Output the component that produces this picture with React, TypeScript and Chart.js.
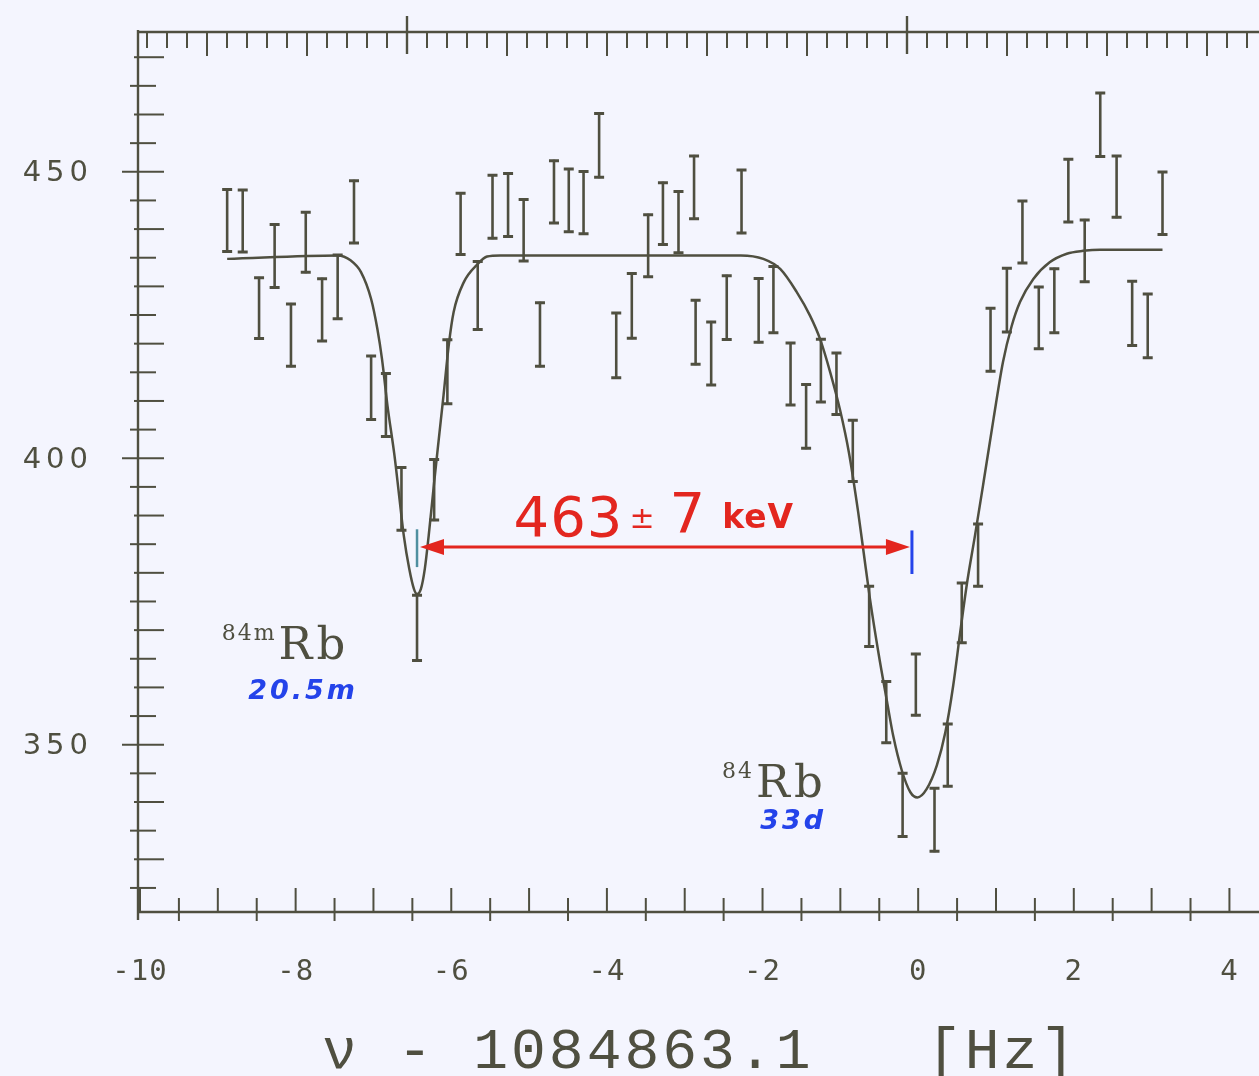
import { useEffect, useRef } from "react";
import { Chart, registerables } from "chart.js";

Chart.register(...registerables);

// Frequency offset from 1084863.1 Hz, counts per bin and their errors
const freqOffset = [
  -8.88, -8.68, -8.47, -8.27, -8.06, -7.87, -7.66, -7.46, -7.25, -7.03,
  -6.84, -6.64, -6.44, -6.22, -6.05, -5.88, -5.66, -5.47, -5.27, -5.07,
  -4.86, -4.68, -4.49, -4.3, -4.1, -3.88, -3.68, -3.47, -3.28, -3.08,
  -2.88, -2.86, -2.66, -2.46, -2.27, -2.05, -1.86, -1.64, -1.44, -1.25,
  -1.05, -0.84, -0.63, -0.41, -0.2, -0.03, 0.21, 0.38, 0.56, 0.77,
  0.93, 1.14, 1.34, 1.55, 1.75, 1.93, 2.14, 2.34, 2.55, 2.75,
  2.95, 3.14,
];
const counts = [
  441.5, 441.4, 426.2, 435.3, 421.5, 437.7, 425.9, 429.9, 443.0, 412.3,
  409.3, 392.9, 370.4, 394.5, 415.1, 440.9, 428.4, 443.9, 444.2, 439.8,
  421.6, 446.5, 445.0, 444.6, 454.6, 419.7, 426.6, 437.1, 442.7, 441.2,
  447.3, 422.0, 418.3, 426.3, 444.8, 425.8, 427.7, 414.7, 407.3, 415.3,
  413.0, 401.3, 372.4, 355.7, 339.5, 360.5, 336.9, 348.2, 373.0, 383.1,
  420.7, 427.6, 439.5, 424.5, 427.5, 446.7, 436.2, 458.2, 447.4, 425.3,
  423.1, 444.5,
];
const countErrors = [
  5.58, 5.58, 5.46, 5.67, 5.61, 5.41, 5.61, 5.73, 5.61, 5.73,
  5.67, 5.64, 5.87, 5.47, 5.76, 5.53, 6.1, 5.67, 5.67, 5.53,
  5.72, 5.61, 5.65, 5.61, 5.73, 5.82, 5.82, 5.58, 5.58, 5.52,
  5.65, 5.76, 5.67, 5.73, 5.67, 5.73, 5.96, 5.58, 5.73, 5.65,
  5.53, 5.52, 5.44, 5.52, 5.7, 5.52, 5.67, 5.61, 5.38, 5.61,
  5.67, 5.73, 5.58, 5.58, 5.76, 5.65, 5.58, 5.71, 5.52, 5.79,
  5.73, 5.62,
];

// Fitted resonance profile
const fitX = [
  -8.88, -7.46, -7.29, -7.16, -7.03, -6.95, -6.89, -6.82, -6.73, -6.67,
  -6.61, -6.54, -6.48, -6.44, -6.39, -6.34, -6.29, -6.22, -6.16, -6.1,
  -6.03, -5.97, -5.84, -5.66, -5.54, -5.37, -2.28, -1.99, -1.77, -1.56,
  -1.39, -1.26, -1.13, -1.0, -0.89, -0.77, -0.7, -0.62, -0.51,
  -0.4, -0.32, -0.21, -0.1, -0.01, 0.11, 0.24, 0.35, 0.45, 0.54,
  0.63, 0.73, 0.84, 0.97, 1.09, 1.2, 1.31, 1.48, 1.69, 1.91,
  2.12, 2.34, 3.14,
];
const fitY = [
  434.8, 435.4, 434.5, 432.5, 427.8, 422.6, 417.3, 409.2, 400.5, 393.5,
  386.5, 380.7, 377.2, 376.3, 377.2, 380.7, 386.5, 395.8, 403.4, 410.9,
  420.0, 425.5, 430.7, 433.9, 435.2, 435.4, 435.4, 434.8, 433.0, 429.0,
  424.9, 420.8, 415.0, 408.2, 401.0, 390.5, 383.5, 375.5, 366.0,
  357.5, 351.5, 345.5, 341.7, 340.8, 342.3, 346.4, 352.2, 360.3, 369.6,
  378.4, 386.5, 395.8, 407.0, 416.8, 423.0, 427.3, 431.3, 434.2, 435.7,
  436.2, 436.4, 436.4,
];

const xTickValues = [-10, -8, -6, -4, -2, 0, 2, 4];
const xTickLabels = ["-10", "-8", "-6", "-4", "-2", "0", "2", "4"];
const yTickValues = [450, 400, 350];
const yTickLabels = ["450", "400", "350"];

// Resonance centres joined by the energy-difference arrow
const groundCentre = -0.08;
const isomerCentre = -6.44;
const arrowLevel = 384.5;
const energyLabel = "463±7 keV";

const INK = "#4f4f40";
const BG = "#f4f5fe";
const RED = "#e3261f";
const BLUE = "#2443ea";

const paperPlugin = {
  id: "paper",
  beforeDraw(chart: any) {
    const ctx = chart.ctx;
    ctx.save();
    ctx.fillStyle = BG;
    ctx.fillRect(0, 0, chart.width, chart.height);
    ctx.restore();
  },
  afterDatasetsDraw(chart: any) {
    const ctx = chart.ctx;
    const xs = chart.scales.x;
    const ys = chart.scales.y;
    ctx.save();
    ctx.strokeStyle = INK;
    ctx.lineCap = "butt";
    freqOffset.forEach((xv, i) => {
      const px = xs.getPixelForValue(xv);
      const top = ys.getPixelForValue(counts[i] + countErrors[i]);
      const bot = ys.getPixelForValue(counts[i] - countErrors[i]);
      ctx.lineWidth = 2.6;
      ctx.beginPath();
      ctx.moveTo(px, top);
      ctx.lineTo(px, bot);
      ctx.stroke();
      ctx.lineWidth = 3;
      ctx.beginPath();
      ctx.moveTo(px - 5, top + 1);
      ctx.lineTo(px + 5, top + 1);
      ctx.moveTo(px - 5, bot - 1);
      ctx.lineTo(px + 5, bot - 1);
      ctx.stroke();
    });
    ctx.restore();
  },
  afterDraw(chart: any) {
    const ctx = chart.ctx;
    const area = chart.chartArea;
    const xs = chart.scales.x;
    const ys = chart.scales.y;
    const xt = chart.scales.xTop;
    const left = area.left - 2;
    const top = area.top;
    const bottom = area.bottom;
    const right = chart.width;

    ctx.save();
    ctx.strokeStyle = INK;
    ctx.lineWidth = 2.4;

    // frame: left, top and bottom axes
    ctx.beginPath();
    ctx.moveTo(left, top - 2);
    ctx.lineTo(left, bottom + 8);
    ctx.moveTo(left, top);
    ctx.lineTo(right, top);
    ctx.moveTo(left, bottom);
    ctx.lineTo(right, bottom);
    ctx.stroke();

    // left axis ticks every 5 counts
    ctx.lineWidth = 2;
    for (let v = 325; v <= 470; v += 5) {
      const py = ys.getPixelForValue(v);
      let a = -8;
      let b = 18;
      if (v % 50 === 0) {
        a = -16;
        b = 26;
      } else if (v % 10 === 0) {
        a = -4;
        b = 26;
      }
      ctx.beginPath();
      ctx.moveTo(left + a, py);
      ctx.lineTo(left + b, py);
      ctx.stroke();
    }

    // bottom axis ticks every half hertz
    for (let i = -20; i <= 8; i++) {
      const v = i / 2;
      const px = xs.getPixelForValue(v);
      if (px < left + 1 || px > right) continue;
      ctx.beginPath();
      if (i % 2 === 0) {
        ctx.moveTo(px, bottom);
        ctx.lineTo(px, bottom - 24);
      } else {
        ctx.moveTo(px, bottom + 9);
        ctx.lineTo(px, bottom - 14);
      }
      ctx.stroke();
    }

    // top axis ticks
    const t0 = Math.ceil(xt.min * 5);
    const t1 = Math.floor(xt.max * 5);
    for (let i = t0; i <= t1; i++) {
      const px = xt.getPixelForValue(i / 5);
      if (px < left + 4) continue;
      ctx.beginPath();
      if (i % 25 === 0) {
        ctx.lineWidth = 2.4;
        ctx.moveTo(px, top - 16);
        ctx.lineTo(px, top + 22);
      } else if (i % 5 === 0) {
        ctx.lineWidth = 2;
        ctx.moveTo(px, top);
        ctx.lineTo(px, top + 24);
      } else {
        ctx.lineWidth = 2;
        ctx.moveTo(px, top);
        ctx.lineTo(px, top + 16);
      }
      ctx.stroke();
    }

    // tick labels
    ctx.fillStyle = INK;
    (ctx as any).letterSpacing = "5px";
    ctx.font = "29px 'DejaVu Sans'";
    ctx.textAlign = "right";
    ctx.textBaseline = "middle";
    yTickValues.forEach((v, i) => {
      ctx.fillText(yTickLabels[i], left - 45, ys.getPixelForValue(v) + 2);
    });
    (ctx as any).letterSpacing = "1px";
    ctx.font = "29px 'DejaVu Sans Mono'";
    ctx.textAlign = "center";
    xTickValues.forEach((v, i) => {
      ctx.fillText(xTickLabels[i], xs.getPixelForValue(v), bottom + 60);
    });

    // axis title
    (ctx as any).letterSpacing = "3px";
    ctx.font = "58px 'Liberation Mono'";
    ctx.textAlign = "left";
    ctx.textBaseline = "alphabetic";
    ctx.fillText("ν - 1084863.1   [Hz]", 322, chart.height - 8);
    (ctx as any).letterSpacing = "0px";

    // energy difference arrow
    const ay = ys.getPixelForValue(arrowLevel);
    const ax0 = xs.getPixelForValue(isomerCentre) + 3;
    const ax1 = xs.getPixelForValue(groundCentre) - 2;
    ctx.strokeStyle = RED;
    ctx.fillStyle = RED;
    ctx.lineWidth = 3;
    ctx.beginPath();
    ctx.moveTo(ax0 + 10, ay);
    ctx.lineTo(ax1 - 10, ay);
    ctx.stroke();
    ctx.beginPath();
    ctx.moveTo(ax0, ay);
    ctx.lineTo(ax0 + 24, ay - 8);
    ctx.lineTo(ax0 + 24, ay + 8);
    ctx.closePath();
    ctx.fill();
    ctx.beginPath();
    ctx.moveTo(ax1, ay);
    ctx.lineTo(ax1 - 24, ay - 8);
    ctx.lineTo(ax1 - 24, ay + 8);
    ctx.closePath();
    ctx.fill();

    // resonance centre markers
    ctx.strokeStyle = BLUE;
    ctx.lineWidth = 3;
    ctx.beginPath();
    ctx.moveTo(xs.getPixelForValue(groundCentre), ys.getPixelForValue(387.4));
    ctx.lineTo(xs.getPixelForValue(groundCentre), ys.getPixelForValue(379.8));
    ctx.stroke();
    ctx.strokeStyle = "#4f8fa0";
    ctx.lineWidth = 2.5;
    ctx.beginPath();
    ctx.moveTo(xs.getPixelForValue(isomerCentre), ys.getPixelForValue(387.6));
    ctx.lineTo(xs.getPixelForValue(isomerCentre), ys.getPixelForValue(381.0));
    ctx.stroke();

    // energy label
    const parts = energyLabel.split(" ");
    const digits = parts[0];
    const unit = parts[1];
    const lx = xs.getPixelForValue(-5.2);
    const ly = ys.getPixelForValue(386.4);
    ctx.fillStyle = RED;
    ctx.textAlign = "left";
    ctx.font = "56px 'DejaVu Sans'";
    (ctx as any).letterSpacing = "1px";
    const pm = digits.indexOf("±");
    const head = digits.slice(0, pm);
    const tail = digits.slice(pm + 1);
    ctx.fillText(head, lx, ly);
    let cx = lx + ctx.measureText(head).width + 6;
    ctx.font = "30px 'DejaVu Sans'";
    ctx.fillText("±", cx, ly - 8);
    cx += ctx.measureText("±").width + 14;
    ctx.font = "56px 'DejaVu Sans'";
    ctx.fillText(tail, cx, ly - 4);
    cx += ctx.measureText(tail).width + 16;
    ctx.font = "bold 33px 'DejaVu Sans'";
    ctx.fillText(unit, cx, ly - 8);
    (ctx as any).letterSpacing = "0px";

    // isotope labels
    const isotope = (mass: string, x: number, y: number, half: string, hx: number, hy: number) => {
      const px = xs.getPixelForValue(x);
      const py = ys.getPixelForValue(y);
      ctx.fillStyle = INK;
      ctx.font = "22px 'DejaVu Serif'";
      (ctx as any).letterSpacing = "2px";
      ctx.fillText(mass, px, py - 19);
      const w = ctx.measureText(mass).width;
      ctx.font = "45px 'DejaVu Serif'";
      (ctx as any).letterSpacing = "4px";
      ctx.fillText("Rb", px + w + 2, py);
      (ctx as any).letterSpacing = "3px";
      ctx.fillStyle = BLUE;
      ctx.font = "italic bold 27px 'DejaVu Sans'";
      ctx.fillText(half, xs.getPixelForValue(hx), ys.getPixelForValue(hy));
      (ctx as any).letterSpacing = "0px";
    };
    isotope("84m", -8.95, 365.0, "20.5m", -8.61, 358.0);
    isotope("84", -2.52, 340.9, "33d", -2.03, 335.3);

    ctx.restore();
  },
};

export default function App() {
  const canvasRef = useRef<HTMLCanvasElement | null>(null);

  useEffect(() => {
    document.body.style.margin = "0";
    document.body.style.background = BG;
    const canvas = canvasRef.current;
    if (!canvas) return;
    const chart = new Chart(canvas, {
      type: "scatter",
      data: {
        datasets: [
          {
            type: "line",
            label: "fit",
            data: fitX.map((x, i) => ({ x, y: fitY[i] })),
            borderColor: INK,
            borderWidth: 2.5,
            pointRadius: 0,
            cubicInterpolationMode: "monotone",
            fill: false,
          } as any,
          {
            type: "scatter",
            label: "counts",
            data: freqOffset.map((x, i) => ({ x, y: counts[i] })),
            pointRadius: 0,
            showLine: false,
          },
        ],
      },
      options: {
        responsive: false,
        animation: false,
        devicePixelRatio: 1,
        layout: { padding: { left: 140, top: 32, right: 0, bottom: 164 } },
        plugins: {
          legend: { display: false },
          tooltip: { enabled: false },
        },
        scales: {
          x: { type: "linear", min: -10, max: 4.38, display: false },
          y: { type: "linear", min: 320.8, max: 474.4, display: false },
          xTop: { type: "linear", position: "top", min: -2.67, max: 8.52, display: false },
        },
      },
      plugins: [paperPlugin],
    });
    return () => chart.destroy();
  }, []);

  return (
    <div style={{ width: 1259, height: 1076, background: BG }}>
      <canvas ref={canvasRef} width={1259} height={1076} style={{ display: "block" }} />
    </div>
  );
}
